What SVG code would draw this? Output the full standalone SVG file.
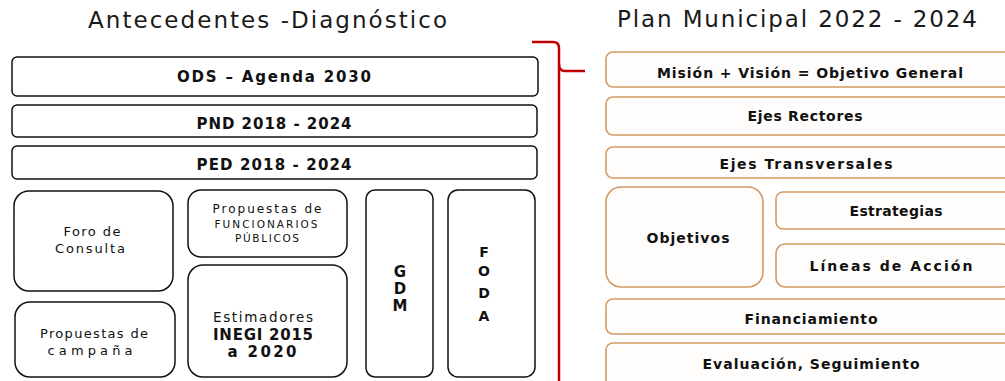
<svg xmlns="http://www.w3.org/2000/svg" width="1005" height="381" viewBox="0 0 1005 381">
<style>
.title{font-family:"DejaVu Sans","Liberation Sans",sans-serif;font-size:23px;fill:#1a1a1a}
.bk{fill:#fff;stroke:#111;stroke-width:1.5}
.or{fill:#fffdfb;stroke:#d49a62;stroke-width:1.6}
.b{font-family:"DejaVu Sans","Liberation Sans",sans-serif;font-weight:bold;fill:#111;text-anchor:middle}
.n{font-family:"DejaVu Sans","Liberation Sans",sans-serif;fill:#111;text-anchor:middle}
.red{fill:none;stroke:#c00000;stroke-width:2.5}
</style>
<rect width="1005" height="381" fill="#fff"/>
<text class="title" x="88" y="28" textLength="359" lengthAdjust="spacing">Antecedentes -Diagnóstico</text>
<text class="title" x="617" y="27" textLength="360" lengthAdjust="spacing">Plan Municipal 2022 - 2024</text>

<g id="connectors">
<path class="red" d="M532,42 H553 Q559,42 559,48 V381"/>
<path class="red" d="M559,64 Q559,71 565,71 H585"/>
</g>

<g id="ods"><rect class="bk" x="12" y="57" width="526" height="39" rx="5"/>
<text class="b" x="274" y="82" font-size="15" textLength="194" lengthAdjust="spacing">ODS – Agenda 2030</text></g>
<g id="pnd"><rect class="bk" x="12" y="105" width="525" height="32" rx="5"/>
<text class="b" x="274" y="129" font-size="15" textLength="155" lengthAdjust="spacing">PND 2018 - 2024</text></g>
<g id="ped"><rect class="bk" x="12" y="146" width="525" height="33" rx="5"/>
<text class="b" x="274" y="170" font-size="15" textLength="155" lengthAdjust="spacing">PED 2018 - 2024</text></g>

<g id="foro"><rect class="bk" x="14" y="191" width="159" height="100" rx="15"/>
<text class="n" x="92" y="236" font-size="13" textLength="57" lengthAdjust="spacing">Foro de</text>
<text class="n" x="90" y="253" font-size="13" textLength="70" lengthAdjust="spacing">Consulta</text></g>
<g id="campana"><rect class="bk" x="15" y="302" width="160" height="75" rx="15"/>
<text class="n" x="94" y="338" font-size="13" textLength="108" lengthAdjust="spacing">Propuestas de</text>
<text class="n" x="90" y="355" font-size="13" textLength="85" lengthAdjust="spacing">campaña</text></g>
<g id="funcionarios"><rect class="bk" x="188" y="190" width="159" height="67" rx="13"/>
<text class="n" x="267" y="213" font-size="12" textLength="109" lengthAdjust="spacing">Propuestas de</text>
<text class="n" x="266" y="228" font-size="10.5" textLength="103" lengthAdjust="spacing">FUNCIONARIOS</text>
<text class="n" x="267" y="242" font-size="10.5" textLength="64" lengthAdjust="spacing">PÚBLICOS</text></g>
<g id="estimadores"><rect class="bk" x="188" y="265" width="159" height="112" rx="15"/>
<text class="n" x="263" y="322" font-size="13.5" textLength="100" lengthAdjust="spacing">Estimadores</text>
<text class="b" x="263" y="340" font-size="15" textLength="100" lengthAdjust="spacing">INEGI 2015</text>
<text class="b" x="262" y="357" font-size="15" textLength="69" lengthAdjust="spacing">a 2020</text></g>
<g id="gdm"><rect class="bk" x="366" y="190" width="67" height="187" rx="9"/>
<text class="b" x="400" y="277" font-size="15">G</text>
<text class="b" x="400" y="294" font-size="15">D</text>
<text class="b" x="400" y="311" font-size="15">M</text></g>
<g id="foda"><rect class="bk" x="448" y="190" width="87" height="187" rx="10"/>
<text class="b" x="484" y="257" font-size="14">F</text>
<text class="b" x="484" y="276" font-size="14">O</text>
<text class="b" x="484" y="298" font-size="14">D</text>
<text class="b" x="484" y="321" font-size="14">A</text></g>

<g id="mision"><rect class="or" x="606" y="52" width="405" height="35" rx="7"/>
<text class="b" x="810" y="78" font-size="14" textLength="306" lengthAdjust="spacing">Misión + Visión = Objetivo General</text></g>
<g id="rectores"><rect class="or" x="606" y="97" width="405" height="38" rx="7"/>
<text class="b" x="805" y="121" font-size="14" textLength="115" lengthAdjust="spacing">Ejes Rectores</text></g>
<g id="transversales"><rect class="or" x="606" y="147" width="405" height="31" rx="7"/>
<text class="b" x="806" y="169" font-size="14" textLength="173" lengthAdjust="spacing">Ejes Transversales</text></g>
<g id="objetivos"><rect class="or" x="606" y="187" width="157" height="100" rx="15"/>
<text class="b" x="688" y="243" font-size="14" textLength="83" lengthAdjust="spacing">Objetivos</text></g>
<g id="estrategias"><rect class="or" x="776" y="192" width="235" height="37" rx="7"/>
<text class="b" x="896" y="216" font-size="14" textLength="93" lengthAdjust="spacing">Estrategias</text></g>
<g id="lineas"><rect class="or" x="776" y="244" width="235" height="43" rx="9"/>
<text class="b" x="891" y="271" font-size="14" textLength="163" lengthAdjust="spacing">Líneas de Acción</text></g>
<g id="financiamiento"><rect class="or" x="606" y="299" width="405" height="35" rx="7"/>
<text class="b" x="811" y="324" font-size="14" textLength="133" lengthAdjust="spacing">Financiamiento</text></g>
<g id="evaluacion"><rect class="or" x="606" y="343" width="405" height="45" rx="7"/>
<text class="b" x="811" y="369" font-size="14" textLength="217" lengthAdjust="spacing">Evaluación, Seguimiento</text></g>
</svg>
